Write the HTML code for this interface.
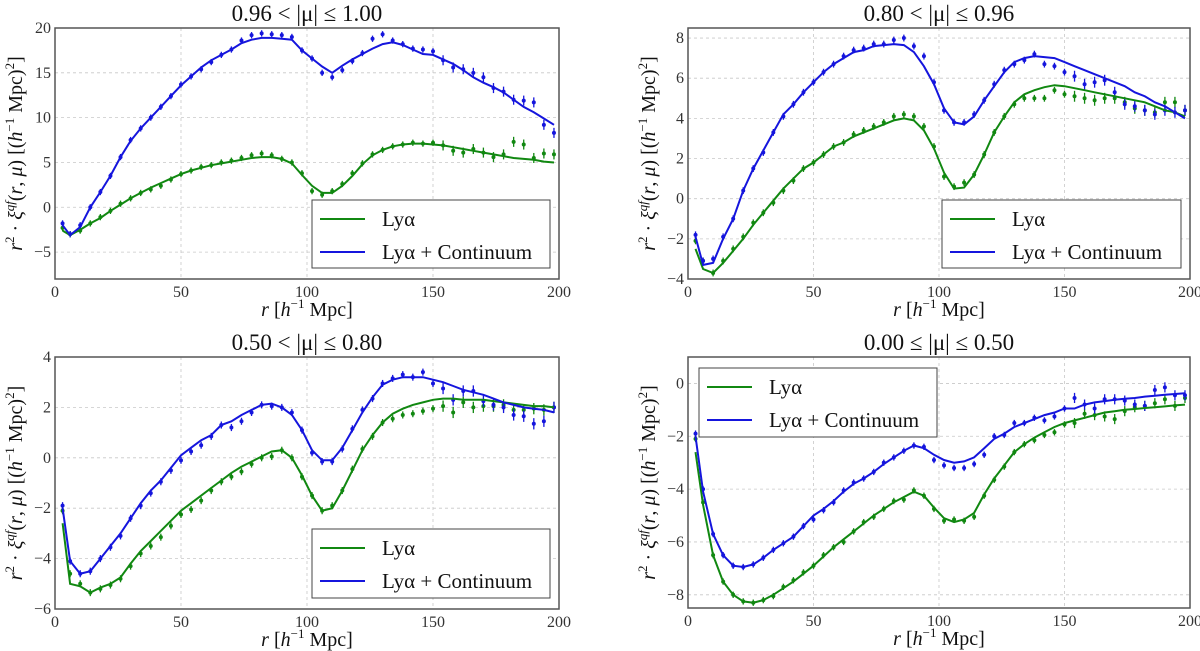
<!DOCTYPE html>
<html><head><meta charset="utf-8"><style>
html,body{margin:0;padding:0;background:#fff;}
svg{display:block;font-family:"Liberation Serif","DejaVu Serif",serif;}
</style></head><body>
<svg id="fig" width="1200" height="651" viewBox="0 0 1200 651" xmlns="http://www.w3.org/2000/svg"></svg>
<script>
const rValues=[3,6,10,14,18,22,26,30,34,38,42,46,50,54,58,62,66,70,74,78,82,86,90,94,98,102,106,110,114,118,122,126,130,134,138,142,146,150,154,158,162,166,170,174,178,182,186,190,194,198];
const xTicks=[0,50,100,150,200];
// Panel 1: 0.96<|mu|<=1.00
const p1BlueModel=[-2,-3.1,-2.2,0,1.7,3.5,5.6,7.4,8.8,10,11.2,12.4,13.6,14.6,15.6,16.4,17,17.6,18.3,18.7,18.9,18.9,18.8,18.7,17.5,16.6,15.7,15,15.8,16.5,17.1,17.7,18.2,18.4,18.1,17.6,17.1,17,16.5,16,15.3,14.5,13.9,13.4,12.8,12,11.2,10.6,9.9,9.2];
const p1BlueData=[-1.8,-3,-2,0,1.7,3.5,5.6,7.5,8.8,10,11.2,12.4,13.7,14.6,15.4,16.2,17,17.6,18.6,19.2,19.4,19.3,19.2,19,17.5,16.6,15,14.5,15.3,16.3,17.2,18.8,19.3,18.6,18.2,17.7,17.6,17.4,16.4,15.6,15.4,15,14.5,13.3,12.9,12,11.9,11.7,9.2,8.3];
const p1GreenModel=[-2.6,-3.1,-2.5,-1.8,-1.2,-0.4,0.3,1,1.6,2.2,2.7,3.2,3.7,4.1,4.4,4.7,4.9,5.1,5.3,5.5,5.6,5.6,5.4,4.9,3.6,2.4,1.6,1.6,2.4,3.5,4.8,5.8,6.4,6.8,7,7.1,7.1,7,6.9,6.7,6.5,6.3,6.1,5.9,5.7,5.5,5.4,5.3,5.1,5.0];
const p1GreenData=[-2.3,-3,-2.6,-1.8,-1.1,-0.4,0.4,1,1.6,2,2.4,3.1,3.7,4.1,4.5,4.7,5,5.2,5.5,5.8,6,5.8,5.4,5,3.8,1.8,1.4,1.8,2.6,3.8,4.9,5.9,6.4,6.8,7,7.2,7.1,7.2,6.9,6.3,6.1,6.5,6.1,5.6,5.9,7.3,7,5.5,6,5.9];
const p1YTicks=[-5,0,5,10,15,20];
// Panel 2: 0.80<|mu|<=0.96
const p2BlueModel=[-1.9,-3.3,-3.2,-2,-1,0.4,1.5,2.4,3.3,4.2,4.7,5.3,5.8,6.3,6.7,7,7.3,7.4,7.6,7.65,7.7,7.65,7.3,6.6,5.7,4.5,3.8,3.7,4.1,4.9,5.6,6.3,6.8,7,7.1,7.05,7,6.8,6.6,6.4,6.2,6,5.8,5.6,5.3,5.1,4.8,4.6,4.3,4.0];
const p2BlueData=[-1.8,-3.1,-3,-1.9,-1,0.4,1.5,2.3,3.3,4.1,4.7,5.3,5.8,6.3,6.7,7.1,7.4,7.5,7.7,7.7,7.9,8,7.6,7.1,5.8,4.4,3.8,3.8,4.2,4.9,5.7,6.4,6.7,6.9,7.2,6.7,6.6,6.3,6.1,5.7,5.8,5.9,5.3,4.7,4.6,4.4,4.2,4.4,4.3,4.4];
const p2GreenModel=[-2.5,-3.5,-3.7,-3.2,-2.6,-2,-1.3,-0.7,-0.1,0.5,1,1.5,1.8,2.2,2.6,2.8,3.1,3.3,3.5,3.7,3.9,4,3.9,3.4,2.5,1.3,0.5,0.55,1.2,2.2,3.3,4.1,4.8,5.2,5.4,5.55,5.65,5.6,5.5,5.4,5.3,5.2,5.1,5,4.9,4.8,4.6,4.4,4.3,4.1];
const p2GreenData=[-2.1,-3.1,-3.7,-3.1,-2.5,-1.9,-1.2,-0.7,-0.2,0.4,0.9,1.5,1.8,2.2,2.6,2.8,3.2,3.4,3.6,3.8,4.1,4.2,4.1,3.6,2.6,1.1,0.6,0.8,1.2,2.2,3.3,4.1,4.7,5,5,5,5.4,5.2,5.1,5,4.9,5,5,4.8,4.5,4.4,4.3,4.8,4.8,4.4];
const p2YTicks=[-4,-2,0,2,4,6,8];
// Panel 3: 0.50<|mu|<=0.80
const p3BlueModel=[-2,-4.1,-4.6,-4.5,-4,-3.5,-3,-2.4,-1.8,-1.3,-0.9,-0.4,0.1,0.4,0.7,0.9,1.3,1.45,1.7,1.9,2.1,2.15,2,1.7,1.1,0.3,-0.1,-0.1,0.4,1.1,1.8,2.4,2.9,3.1,3.2,3.2,3.2,3.1,3,2.85,2.7,2.6,2.5,2.35,2.2,2.1,2.0,1.95,1.9,1.8];
const p3BlueData=[-1.9,-4.1,-4.6,-4.5,-4,-3.55,-3.1,-2.4,-1.9,-1.4,-0.95,-0.5,-0.1,0.25,0.5,0.85,1.3,1.2,1.45,1.8,2.1,2.05,2,1.8,1.1,0.2,-0.15,-0.15,0.35,1.15,1.9,2.35,2.95,3.15,3.3,3.2,3.4,2.95,2.75,2.3,2.65,2.65,2.25,2.1,2,1.7,1.65,1.35,1.45,2];
const p3GreenModel=[-2.6,-5,-5.1,-5.35,-5.15,-5,-4.75,-4.2,-3.7,-3.3,-2.9,-2.5,-2.1,-1.8,-1.5,-1.2,-0.9,-0.6,-0.35,-0.15,0.05,0.25,0.3,0,-0.7,-1.5,-2.1,-2,-1.3,-0.5,0.3,0.9,1.4,1.75,1.95,2.1,2.2,2.3,2.35,2.35,2.3,2.3,2.3,2.25,2.2,2.15,2.1,2.05,2.05,2.0];
const p3GreenData=[-2.1,-4.6,-5,-5.35,-5.2,-5.05,-4.8,-4.3,-3.8,-3.5,-3.15,-2.7,-2.25,-2.05,-1.7,-1.3,-0.95,-0.75,-0.55,-0.25,0,0.05,0.3,0,-0.75,-1.5,-2.1,-1.9,-1.3,-0.45,0.35,0.85,1.4,1.55,1.7,1.75,1.85,1.95,2.05,1.8,2.2,2,2.05,2.05,2.1,1.9,1.9,1.95,1.9,2];
const p3YTicks=[-6,-4,-2,0,2,4];
// Panel 4: 0.00<=|mu|<=0.50
const p4BlueModel=[-2,-4.1,-5.7,-6.5,-6.9,-6.95,-6.85,-6.6,-6.3,-6.05,-5.8,-5.4,-5,-4.75,-4.45,-4.1,-3.8,-3.6,-3.35,-3.05,-2.8,-2.55,-2.35,-2.45,-2.7,-2.9,-3.0,-2.95,-2.8,-2.45,-2.1,-1.9,-1.65,-1.5,-1.35,-1.2,-1.1,-0.95,-0.95,-0.8,-0.72,-0.67,-0.62,-0.58,-0.55,-0.5,-0.47,-0.43,-0.4,-0.37];
const p4BlueData=[-1.9,-4,-5.7,-6.5,-6.9,-6.95,-6.85,-6.6,-6.3,-6.05,-5.8,-5.4,-5.15,-4.8,-4.5,-4.05,-3.75,-3.6,-3.35,-3,-2.8,-2.55,-2.35,-2.4,-2.9,-3.1,-3.2,-3.2,-3.05,-2.7,-2,-1.95,-1.5,-1.5,-1.3,-1.4,-1.25,-0.95,-0.55,-0.8,-0.95,-0.6,-0.6,-0.65,-0.8,-0.85,-0.25,-0.15,-0.45,-0.45];
const p4GreenModel=[-2.6,-4.6,-6.5,-7.5,-8,-8.25,-8.3,-8.2,-8.0,-7.75,-7.5,-7.2,-6.9,-6.55,-6.2,-5.9,-5.6,-5.3,-5.0,-4.75,-4.5,-4.3,-4.1,-4.25,-4.7,-5.1,-5.25,-5.15,-4.9,-4.2,-3.6,-3.1,-2.6,-2.3,-2.05,-1.85,-1.65,-1.5,-1.4,-1.3,-1.2,-1.1,-1.05,-1,-0.97,-0.93,-0.9,-0.87,-0.83,-0.8];
const p4GreenData=[-2.1,-4.5,-6.5,-7.5,-8,-8.25,-8.3,-8.2,-8.05,-7.7,-7.45,-7.15,-6.9,-6.5,-6.2,-6,-5.6,-5.25,-5.05,-4.75,-4.45,-4.4,-4.05,-4.25,-4.75,-5.2,-5.15,-5.2,-5.05,-4.25,-3.65,-3.15,-2.6,-2.3,-2.15,-1.95,-1.85,-1.55,-1.5,-1.15,-1.2,-1.25,-1.35,-1.05,-0.9,-0.85,-0.75,-0.6,-0.85,-0.55];
const p4YTicks=[-8,-6,-4,-2,0];

const NS='http://www.w3.org/2000/svg';
const svg=document.getElementById('fig');
const GREEN='#118811', BLUE='#1515dd';
function mk(tag,attrs,parent){const e=document.createElementNS(NS,tag);for(const k in attrs)e.setAttribute(k,attrs[k]);(parent||svg).appendChild(e);return e;}

const panels=[
 {id:'p1',title:'0.96 < |μ| ≤ 1.00',x0:55,x1:559,y0:28,y1:279,ymin:-8,ymax:20,yt:p1YTicks,bm:p1BlueModel,bd:p1BlueData,gm:p1GreenModel,gd:p1GreenData,err:0.35,leg:[312,200,238,68]},
 {id:'p2',title:'0.80 < |μ| ≤ 0.96',x0:688,x1:1190,y0:28,y1:279,ymin:-4,ymax:8.5,yt:p2YTicks,bm:p2BlueModel,bd:p2BlueData,gm:p2GreenModel,gd:p2GreenData,err:0.17,leg:[942,200,239,68]},
 {id:'p3',title:'0.50 < |μ| ≤ 0.80',x0:55,x1:559,y0:357,y1:609,ymin:-6,ymax:4,yt:p3YTicks,bm:p3BlueModel,bd:p3BlueData,gm:p3GreenModel,gd:p3GreenData,err:0.14,leg:[312,529,238,69]},
 {id:'p4',title:'0.00 ≤ |μ| ≤ 0.50',x0:688,x1:1190,y0:357,y1:608,ymin:-8.5,ymax:1,yt:p4YTicks,bm:p4BlueModel,bd:p4BlueData,gm:p4GreenModel,gd:p4GreenData,err:0.12,leg:[699,368,238,69]}
];

panels.forEach(p=>{
  const g=mk('g',{});
  
  
  const X=v=>p.x0+(v-0)/(200-0)*(p.x1-p.x0);
  const Y=v=>p.y1-(v-p.ymin)/(p.ymax-p.ymin)*(p.y1-p.y0);
  xTicks.forEach(t=>{
    const l=mk('line',{x1:X(t),x2:X(t),y1:p.y0,y2:p.y1,stroke:'#c8c8c8','stroke-width':0.8,'stroke-dasharray':'3,3'},g);
    
    
    const tx=mk('text',{x:X(t),y:p.y1+18,'text-anchor':'middle','font-size':16,fill:'#333'},g);
    tx.textContent=t;
    
    
  });
  p.yt.forEach(t=>{
    const l=mk('line',{x1:p.x0,x2:p.x1,y1:Y(t),y2:Y(t),stroke:'#c8c8c8','stroke-width':0.8,'stroke-dasharray':'3,3'},g);
    
    
    const tx=mk('text',{x:p.x0-4,y:Y(t)+5,'text-anchor':'end','font-size':16,fill:'#333'},g);
    tx.textContent=(t<0?'−'+(-t):t);
    
    
  });
  function line(arr,col,name){
    const d=arr.map((v,i)=>(i?'L':'M')+X(rValues[i]).toFixed(1)+','+Y(v).toFixed(1)).join(' ');
    const pa=mk('path',{d:d,fill:'none',stroke:col,'stroke-width':2},g);
    
    
  }
  function pts(arr,col,name){
    arr.forEach((v,i)=>{
      const x=X(rValues[i]);
      const e=p.err*(rValues[i]>150?1.6:1);
      const eb=mk('line',{x1:x,x2:x,y1:Y(v-e),y2:Y(v+e),stroke:col,'stroke-width':1.3},g);
      
      
      const c=mk('circle',{cx:x,cy:Y(v),r:2,fill:col},g);
      
      
    });
  }
  pts(p.gd,GREEN,'lya-data');
  pts(p.bd,BLUE,'lya-continuum-data');
  line(p.gm,GREEN,'lya-model-line');
  line(p.bm,BLUE,'lya-continuum-model-line');
  const fr=mk('rect',{x:p.x0,y:p.y0,width:p.x1-p.x0,height:p.y1-p.y0,fill:'none',stroke:'#555','stroke-width':1.5},g);
  
  
  const ti=mk('text',{x:(p.x0+p.x1)/2,y:p.y0-7,'text-anchor':'middle','font-size':23,fill:'#111'},g);
  ti.textContent=p.title;
  
  
  const xl=mk('text',{x:(p.x0+p.x1)/2,y:p.y1+37,'text-anchor':'middle','font-size':20,fill:'#111'},g);
  xl.innerHTML='<tspan font-style="italic">r</tspan> [<tspan font-style="italic">h</tspan><tspan font-size="13" dy="-8">−1</tspan><tspan dy="8"> Mpc]</tspan>';
  
  
  const cy=(p.y0+p.y1)/2, lx=p.x0-33;
  const yl=mk('text',{x:lx,y:cy,'text-anchor':'middle','font-size':20,fill:'#111',transform:'rotate(-90 '+lx+' '+cy+')'},g);
  yl.innerHTML='<tspan font-style="italic">r</tspan><tspan font-size="13" dy="-8">2</tspan><tspan dy="8"> · </tspan><tspan font-style="italic">ξ</tspan><tspan font-size="13" dy="-8" font-style="italic">qf</tspan><tspan dy="8">(</tspan><tspan font-style="italic">r</tspan>, <tspan font-style="italic">μ</tspan>) [(<tspan font-style="italic">h</tspan><tspan font-size="13" dy="-8">−1</tspan><tspan dy="8"> Mpc)</tspan><tspan font-size="13" dy="-8">2</tspan><tspan dy="8">]</tspan>';
  
  
  const [lx0,ly0,lw,lh]=p.leg;
  const lg=mk('g',{},g);
  
  
  mk('rect',{x:lx0,y:ly0,width:lw,height:lh,fill:'#fff',stroke:'#444','stroke-width':1},lg);
  [[GREEN,'Lyα','legend-entry-lya'],[BLUE,'Lyα + Continuum','legend-entry-lya-continuum']].forEach((e,i)=>{
    const yy=ly0+19+i*33;
    const eg=mk('g',{},lg);
    
    
    mk('line',{x1:lx0+8,x2:lx0+53,y1:yy,y2:yy,stroke:e[0],'stroke-width':2},eg);
    const t=mk('text',{x:lx0+70,y:yy+7,'font-size':21,fill:'#111'},eg);
    t.textContent=e[1];
  });
});
</script>
</body></html>
